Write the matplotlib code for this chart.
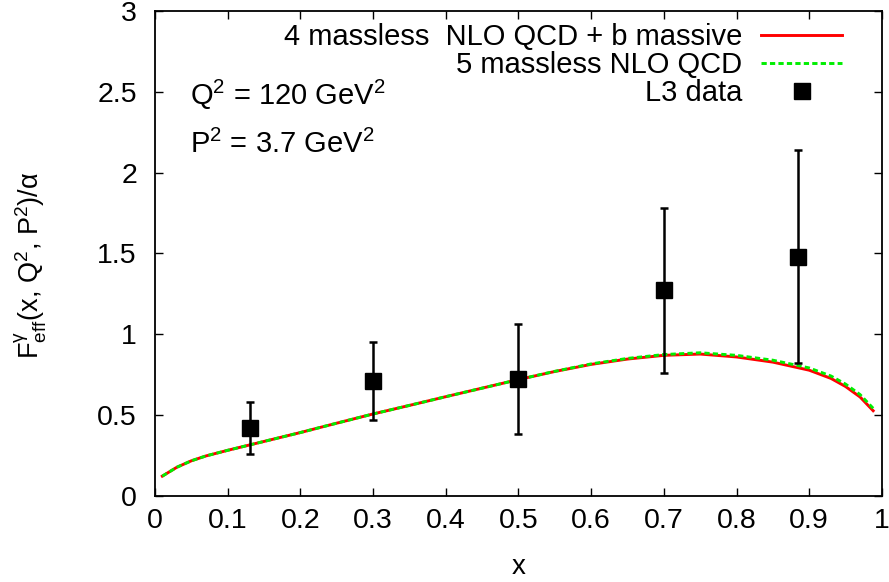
import matplotlib
matplotlib.use("Agg")
import matplotlib.pyplot as plt
from matplotlib.lines import Line2D
import numpy as np

plt.rcParams['font.family'] = ['Liberation Sans', 'DejaVu Sans']
plt.rcParams['mathtext.fontset'] = 'custom'
plt.rcParams['mathtext.rm'] = 'Liberation Sans'
plt.rcParams['mathtext.it'] = 'Liberation Sans'

# theory curves
x_curve = [0.01, 0.03, 0.05, 0.07, 0.1, 0.15, 0.2, 0.25, 0.3, 0.35, 0.4, 0.45,
           0.5, 0.55, 0.6, 0.65, 0.7, 0.75, 0.8, 0.85, 0.9, 0.93, 0.95, 0.97, 0.988]
f_massive = [0.12, 0.175, 0.215, 0.245, 0.28, 0.335, 0.39, 0.448, 0.505, 0.558, 0.612, 0.665,
             0.718, 0.768, 0.812, 0.845, 0.868, 0.876, 0.858, 0.826, 0.776, 0.725, 0.675, 0.61, 0.525]
f_massless = [0.12, 0.175, 0.215, 0.245, 0.28, 0.335, 0.39, 0.448, 0.505, 0.558, 0.612, 0.665,
              0.718, 0.769, 0.815, 0.849, 0.873, 0.884, 0.868, 0.838, 0.79, 0.74, 0.69, 0.625, 0.54]

# L3 data
x_data = [0.13, 0.3, 0.5, 0.7, 0.885]
f_data = [0.42, 0.71, 0.72, 1.27, 1.48]
f_err = [0.16, 0.24, 0.34, 0.51, 0.66]

labels = ['4 massless  NLO QCD + b massive', '5 massless NLO QCD', 'L3 data']

fig = plt.figure(figsize=(8.89, 5.82), dpi=100)
ax = fig.add_axes([0.1744, 0.1486, 0.8176, 0.8324])

l1, = ax.plot(x_curve, f_massive, color='#ff0000', lw=2.1)
l2, = ax.plot(x_curve, f_massless, color='#00ee00', lw=2.1, ls=(0, (1.8, 1.1)))
ax.errorbar(x_data, f_data, yerr=f_err, fmt='s', color='black', ms=11.5,
            elinewidth=1.8, capsize=2.6, capthick=1.8)

ax.set_xlim(0, 1)
ax.set_ylim(0, 3)
ax.set_xticks(np.arange(0, 1.01, 0.1))
ax.set_xticklabels(['0', '0.1', '0.2', '0.3', '0.4', '0.5', '0.6', '0.7', '0.8', '0.9', '1'])
ax.set_yticks([0, 0.5, 1, 1.5, 2, 2.5, 3])
ax.set_yticklabels(['0', '0.5', '1', '1.5', '2', '2.5', '3'])
ax.tick_params(direction='in', length=6, width=1, top=True, right=True, labelsize=20.5)
ax.tick_params(axis='x', pad=9)
ax.tick_params(axis='y', pad=13)
for s in ax.spines.values():
    s.set_linewidth(1.3)

ax.set_xlabel('x', fontsize=20, va='top')
ax.xaxis.set_label_coords(0.5, -0.12)
ax.set_ylabel(r'F$^{\gamma}_{\rm eff}$(x, Q$^{2}$, P$^{2}$)/$\alpha$', fontsize=19.5, va='center')
ax.yaxis.set_label_coords(-0.171, 0.475)

ax.text(0.048, 2.416, r'Q$^{2}$ = 120 GeV$^{2}$', fontsize=21, va='baseline')
ax.text(0.048, 2.119, r'P$^{2}$ = 3.7 GeV$^{2}$', fontsize=21, va='baseline')

pt = Line2D([], [], ls='none', marker='s', color='black', ms=11.5)
leg = ax.legend([l1, l2, pt], labels,
                loc='upper right', frameon=False, fontsize=21, markerfirst=False,
                handlelength=2.77, handletextpad=0.65, labelspacing=0.0,
                borderpad=0.0, borderaxespad=1.37, numpoints=1)
leg.set_bbox_to_anchor((1.0, 1.058), transform=ax.transAxes)
for t in leg.get_texts():
    t.set_ha('right')

fig.savefig('out.png', dpi=100)
